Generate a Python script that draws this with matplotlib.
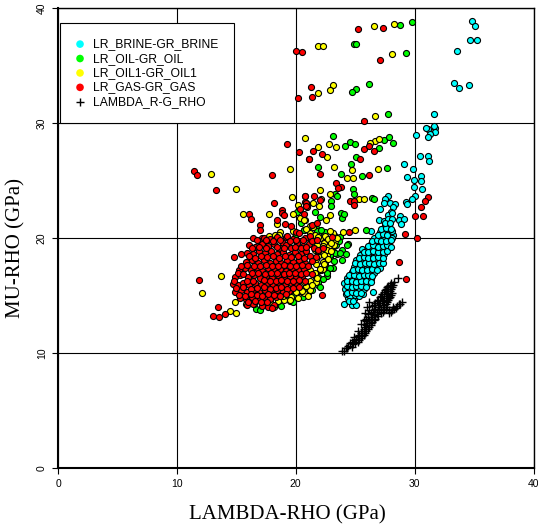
import numpy as np
import matplotlib
matplotlib.use("Agg")
import matplotlib.pyplot as plt

# values (lambda-rho, mu-rho), GPa
brine = [(34.85,38.9),(35.05,38.4),(34.7,37.2),(35.25,37.25),(33.6,36.3),(33.3,33.5),(33.7,33.05),(34.55,33.3),
    (31.6,30.8),(31.1,29.45),(31.75,29.6),(30.96,29.54),(31.66,29.77),(31.75,29.2),(31.33,29.04),(31.1,28.75),
    (30.12,28.93),(30.43,27.16),(31.1,27.16),(31.24,26.72),(29.08,26.43),(29.86,26.03),(29.39,25.27),(29.95,25.04),
    (30.54,25.39),(30.57,24.93),(29.98,24.46),(30.6,24.29),(30.06,23.65),(29.75,23.42),(29.25,23.13),(29.36,22.96),
    (27.76,23.62),(27.53,23.42),(27.45,23.07),(27.9,23.07),(28.38,22.96),(27.11,22.55),(28.18,22.67),(28.01,22.29),
    (27.73,22.0),(28.74,21.94),(27.0,21.56),(27.39,21.5),(27.73,21.62),(28.1,21.62),(28.66,21.56),(29.13,21.62),
    (28.88,21.22),(27.53,21.13),(27.81,20.93),(27.39,20.75),(27.11,20.55),(27.95,20.55),(27.62,20.4),(26.33,20.58),
    (27.22,20.12),(27.73,20.12),(28.18,20.26),(24.05,14.28),(24.36,14.78),(24.72,14.14),(25.09,14.2),(24.89,14.72),
    (25.68,15.13),(26.52,15.33),(24.1,16.05),(24.2,15.1),(24.55,15.0),(24.95,15.05),(25.3,14.95),
    (24.15,15.55),(24.5,15.45),(24.9,15.6),(25.35,15.5),(25.7,15.6),
    (24.5,16.1),(24.85,15.95),(25.3,16.05),(25.75,16.0),(26.1,16.1),
    (24.3,16.5),(24.7,16.45),(25.1,16.6),(25.5,16.4),(25.9,16.55),(26.3,16.45),
    (24.7,17.05),(25.1,16.95),(25.45,17.1),(25.8,17.0),(26.2,17.1),(26.6,16.95),
    (24.9,17.5),(25.3,17.6),(25.65,17.45),(26.0,17.55),(26.4,17.45),(26.8,17.6),(27.05,17.4),
    (25.1,18.05),(25.5,17.95),(25.9,18.1),(26.3,18.0),(26.7,18.1),(27.1,17.95),
    (25.4,18.5),(25.8,18.6),(26.2,18.45),(26.6,18.55),(27.0,18.45),(27.4,18.6),
    (25.6,19.05),(26.0,18.95),(26.4,19.1),(26.8,19.0),(27.2,19.1),(27.6,18.95),
    (26.3,19.5),(26.7,19.6),(27.1,19.45),(27.5,19.55),(27.85,19.5),
    (26.6,20.0),(27.0,19.95),(27.4,20.05),(27.8,19.9),(28.1,20.0),
    (24.5,14.55),(24.85,14.5),(24.35,15.25),(24.7,15.3),(25.1,15.2),(25.45,15.25),
    (24.3,15.8),(24.7,15.75),(25.1,15.85),(25.5,15.8),(25.9,15.75),
    (24.3,16.25),(24.7,16.3),(25.1,16.2),(25.5,16.25),(25.9,16.3),(26.3,16.2),
    (24.5,16.75),(24.9,16.8),(25.3,16.7),(25.7,16.75),(26.1,16.8),(26.45,16.7),
    (24.85,17.25),(25.25,17.3),(25.6,17.2),(26.0,17.25),(26.4,17.3),(26.8,17.2),
    (25.0,17.8),(25.4,17.75),(25.8,17.85),(26.2,17.8),(26.6,17.75),(27.0,17.85),(27.3,17.8),
    (25.3,18.3),(25.7,18.35),(26.1,18.25),(26.5,18.3),(26.9,18.35),(27.3,18.25),
    (25.7,18.8),(26.1,18.75),(26.5,18.85),(26.9,18.8),(27.3,18.75),(27.7,18.85),
    (26.1,19.3),(26.5,19.35),(26.9,19.25),(27.3,19.3),(27.7,19.35),(28.0,19.25),
    (26.4,19.75),(26.8,19.8),(27.2,19.7),(27.6,19.75),(28.0,19.8),
    (26.9,20.3),(27.3,20.35),(27.7,20.25),(28.1,20.6),
    (27.2,20.8),(27.6,20.85),(28.0,20.8),(27.5,21.3),(27.9,21.3),(28.09,22.14)]

oil = [(29.8,38.8),(28.75,38.5),(24.9,36.85),(25.05,36.85),(29.3,36.1),(26.2,33.35),(25.1,33.0),(24.75,32.7),(27.8,30.8),
    (23.15,28.9),(24.16,28.03),(24.58,28.38),(25.0,28.14),(27.0,27.85),(27.45,28.55),(27.87,28.75),(28.15,28.23),
    (25.06,27.07),(24.67,26.43),(21.86,26.17),(23.77,25.56),(25.57,25.36),(27.67,26.11),(24.78,24.23),(24.92,23.83),
    (23.32,23.83),(23.46,23.65),(26.44,23.48),(26.6,23.36),(22.98,23.25),(22.98,22.78),(21.58,22.23),(22.06,21.85),
    (23.8,22.2),(23.88,21.71),(24.1,22.09),(21.77,20.75),(20.71,20.7),(22.28,20.17),(25.93,20.7),(23.74,20.06),
    (21.41,20.03),(20.1,22.26),(20.44,21.33),(20.72,20.7),(19.96,20.06),(16.68,13.79),(16.96,13.73),(19.12,14.84),
    (19.49,14.5),(19.82,14.75),(19.77,14.46),(20.3,15.39),(19.26,15.18),(20.9,15.6),(21.3,16.0),(21.7,16.6),
    (22.1,17.2),(22.5,17.7),(22.9,18.3),(23.1,18.9),(23.4,19.4),(22.6,19.8),(21.9,15.9),(22.6,16.7),(23.1,17.4),
    (20.6,14.9),(18.4,14.3),(18.8,14.1),(22.9,19.9),(23.5,18.6),(23.9,19.0),(24.2,18.6),(24.4,19.5),
    (24.3,19.4),(23.93,18.1),(23.3,18.66),(23.7,18.66),(22.9,18.5),(22.9,17.4),(21.9,16.6),(21.9,16.2),(23.2,18.0),
    (22.6,17.0),(22.3,16.4),(22.0,15.7),(21.4,15.5),(21.0,15.2),(23.6,19.7),(23.0,19.0),(23.3,20.2),(22.5,20.5),
    (21.8,20.6),(22.1,20.7),(19.8,15.0)]

oil1 = [(26.6,38.45),(28.3,38.65),(21.85,36.7),(22.3,36.7),(28.1,36.0),(23.15,33.3),(22.9,32.85),(21.9,32.6),(26.65,30.65),
    (12.86,25.54),(14.99,24.23),(19.54,26.0),(20.81,28.7),(19.68,23.54),(15.55,22.09),(17.74,22.1),(18.42,21.25),
    (20.16,22.9),(19.74,22.09),(20.38,21.71),(20.75,21.59),(18.64,20.52),(17.74,20.2),(18.22,20.26),(21.17,21.04),
    (21.83,27.88),(22.81,28.17),(23.4,27.94),(22.65,27.01),(26.69,28.46),(27.03,28.58),(26.27,28.23),(23.24,26.2),
    (24.75,25.91),(24.33,25.19),(24.81,25.19),(26.89,25.97),(22.03,24.2),(22.84,23.83),(25.29,23.39),(25.71,23.36),
    (21.49,23.07),(22.11,23.42),(21.99,22.78),(22.84,22.0),(22.56,21.56),(23.97,20.55),(25.0,20.67),(20.71,21.56),
    (21.49,20.99),(21.21,20.4),(13.67,16.7),(12.1,15.24),(14.91,14.46),(14.51,13.65),(14.96,13.5),
    (21.6,20.3),(22.0,20.0),(22.4,19.6),(22.8,19.3),(21.8,19.4),(22.2,18.9),(22.6,18.5),(21.9,18.4),(22.3,17.9),
    (21.7,17.7),(22.0,17.2),(21.5,16.9),(21.7,16.2),(21.2,16.3),(21.2,15.5),(20.7,15.2),(20.2,14.8),(19.6,14.9),
    (19.0,14.6),(18.5,14.5),(17.8,14.4),(23.1,20.4),(21.0,17.6),(23.3,19.7),(22.9,20.6),(18.2,14.0),(15.8,14.3),
    (21.3,19.8),(21.9,20.1),(22.5,20.2),(22.7,19.9),(21.6,19.0),(22.6,19.0),(23.0,18.9),(22.35,18.5),(21.7,18.2),
    (22.3,17.3),(22.0,17.3),(21.6,17.0),(21.8,16.5),(21.4,15.9),(20.9,15.8),(20.5,15.4),(20.0,15.3),(19.4,15.4),
    (18.9,15.0),(22.7,18.2),(22.4,17.7),(23.2,19.4),(23.5,20.0),(21.0,15.0),(19.5,14.6),(20.7,16.2),(21.2,17.2),
    (21.9,18.9),(22.3,19.3),(23.0,19.6),(18.6,20.3),(19.8,20.6),(20.9,20.8),(16.5,14.3),(16.0,14.6)]

gas = [(25.25,38.2),(27.3,38.3),(20.0,36.25),(20.55,36.15),(27.1,35.5),(21.25,33.1),(20.15,32.2),(21.35,32.25),(25.75,30.2),
    (11.48,25.8),(11.68,25.48),(13.3,24.2),(17.97,25.48),(19.26,28.2),(20.3,27.48),(21.09,26.84),(18.14,23.07),
    (16.09,22.06),(16.2,21.62),(17.0,21.13),(17.0,20.67),(18.84,22.46),(18.87,22.17),(19.04,22.03),(18.42,21.59),
    (19.12,21.25),(19.6,21.07),(20.78,23.62),(20.78,23.16),(20.92,23.0),(20.92,22.72),(20.36,22.52),(20.67,22.06),
    (20.02,20.49),(17.15,20.03),(19.2,20.08),(31.1,23.59),(30.9,23.22),(30.54,22.67),(30.06,21.91),(30.73,21.91),
    (29.22,20.38),(30.17,19.97),(21.49,27.59),(22.17,27.33),(21.13,26.84),(22.03,25.56),(25.43,26.9),(25.76,27.71),
    (26.13,28.03),(26.55,27.56),(23.38,24.81),(23.82,24.46),(23.52,24.32),(26.16,25.51),(24.56,23.25),(24.86,23.25),
    (24.92,22.87),(21.52,23.65),(20.79,23.65),(20.88,23.07),(20.88,22.78),(22.06,23.3),(21.35,21.13),(21.77,21.27),
    (24.44,20.52),(23.09,20.09),(14.82,18.37),(15.41,18.63),(11.9,16.31),(13.42,13.99),(13.03,13.18),(13.56,13.1),
    (14.01,13.39),(22.2,15.04),(29.3,16.4),(28.7,17.9),
    (16.4,20.0),(16.9,19.7),(17.3,20.0),(17.8,19.9),(18.4,20.1),(18.9,19.6),(19.3,20.2),(19.8,19.9),(20.3,20.4),(20.8,20.0),(21.2,20.2),
    (16.1,19.4),(16.6,19.2),(17.2,19.5),(17.7,19.3),(18.2,19.5),(18.7,19.1),(19.2,19.4),(19.6,19.1),(20.1,19.6),(20.6,19.3),(21.1,19.5),
    (15.9,18.7),(16.4,18.6),(16.9,18.9),(17.4,18.7),(17.9,18.9),(18.4,18.6),(18.9,18.8),(19.4,18.5),(19.9,18.8),(20.4,18.6),(20.9,18.9),
    (15.8,17.9),(16.3,18.1),(16.8,17.8),(17.3,18.1),(17.8,17.8),(18.3,18.0),(18.8,17.8),(19.3,18.1),(19.8,17.9),(20.3,18.1),(20.8,17.8),
    (15.2,17.2),(15.7,17.4),(16.2,17.2),(16.7,17.4),(17.2,17.1),(17.7,17.4),(18.2,17.2),(18.7,17.3),(19.2,17.1),(19.7,17.4),(20.2,17.2),(20.7,17.3),
    (14.9,16.6),(15.3,16.8),(16.0,16.6),(16.5,16.8),(17.0,16.5),(17.5,16.7),(18.0,16.5),(18.5,16.8),(19.0,16.5),(19.5,16.7),(20.0,16.5),(20.5,16.7),
    (14.7,16.0),(15.1,15.9),(15.6,16.1),(16.1,15.9),(16.6,16.1),(17.1,15.9),(17.6,16.1),(18.1,15.9),(18.6,16.1),(19.1,15.9),(19.6,16.1),(20.1,15.9),
    (14.9,15.3),(15.4,15.5),(15.9,15.3),(16.4,15.5),(16.9,15.3),(17.4,15.5),(17.9,15.3),(18.4,15.5),(18.9,15.3),(19.4,15.4),
    (15.3,14.8),(15.8,14.7),(16.3,14.9),(16.8,14.7),(17.3,14.9),(17.8,14.7),(18.3,14.9),
    (15.9,14.2),(16.4,14.3),(17.2,14.1),(17.7,14.0),(18.2,14.2),(18.0,13.9),
    (16.7,19.8),(17.5,19.85),(18.1,19.75),(18.7,19.8),(19.5,19.75),(20.0,19.85),(20.6,19.8),(21.4,19.75),(21.8,19.85),
    (16.3,19.1),(16.9,19.2),(17.5,19.1),(18.4,19.2),(19.0,19.1),(19.9,19.2),(20.4,19.1),(20.9,19.2),(21.5,19.1),(21.83,19.0),(22.3,19.15),
    (16.1,18.4),(16.6,18.3),(17.1,18.45),(17.6,18.35),(18.1,18.4),(18.6,18.3),(19.1,18.45),(19.6,18.35),(20.2,18.4),(20.7,18.3),(21.2,18.45),(21.7,18.35),
    (15.4,17.6),(15.9,17.65),(16.5,17.55),(17.0,17.6),(17.5,17.65),(18.0,17.55),(18.5,17.6),(19.0,17.65),(19.5,17.55),(20.0,17.6),(20.5,17.65),(21.0,17.55),(21.35,18.0),
    (15.1,16.95),(15.6,16.9),(16.3,17.0),(16.8,16.95),(17.4,16.9),(17.9,17.0),(18.4,16.95),(19.0,16.9),(19.4,17.0),(19.9,16.95),(20.4,16.9),(20.9,17.0),(21.35,16.9),
    (14.8,16.3),(15.9,16.3),(16.4,16.25),(17.3,16.35),(17.8,16.3),(18.3,16.25),(18.8,16.35),(19.3,16.3),(19.8,16.25),(20.3,16.35),(20.8,16.3),
    (15.0,15.65),(15.6,15.7),(16.2,15.6),(16.7,15.65),(17.3,15.7),(17.8,15.6),(18.3,15.65),(18.8,15.7),(19.3,15.6),(19.8,15.65),(20.3,15.7),
    (15.2,15.05),(15.7,15.0),(16.2,15.1),(16.7,15.05),(17.2,15.0),(17.7,15.1),(18.2,15.05),(18.7,15.0),(19.2,15.1),
    (16.0,14.45),(16.6,14.5),(17.1,14.4),(17.6,14.45)]

lam_rho = [(23.93,10.14),(24.2,10.4),(24.4,10.65),(24.7,10.55),(24.75,10.95),(25.0,10.85),(25.1,11.25),(25.35,11.1),
    (25.3,11.6),(25.6,11.45),(25.55,11.9),(25.85,11.75),(25.8,12.25),(26.1,12.05),(26.0,12.6),(26.3,12.4),
    (25.9,13.0),(26.2,12.85),(26.45,12.7),(26.1,13.35),(26.4,13.15),(26.7,13.0),(26.2,13.75),(26.5,13.55),
    (26.8,13.4),(26.4,14.05),(26.7,13.85),(27.0,13.7),(27.3,13.55),(26.7,14.35),(27.0,14.2),(27.3,14.0),
    (27.6,13.85),(26.95,14.65),(27.25,14.5),(27.55,14.3),(27.15,15.0),(27.45,14.8),(27.75,14.6),(27.4,15.3),
    (27.7,15.1),(27.95,14.9),(27.6,15.6),(27.9,15.4),(28.1,15.2),(27.8,15.85),(28.1,15.7),(28.0,16.05),
    (28.23,16.2),(28.6,16.49),(27.81,13.73),(28.0,13.55),(28.3,13.85),(28.55,14.1),(28.75,14.25),(28.93,14.46),
    (25.2,11.9),(25.5,12.5),(25.7,12.9),(24.9,11.4),
    (24.1,10.2),(24.35,10.45),(24.55,10.85),(24.85,10.75),(24.9,11.1),(25.2,11.0),(25.2,11.5),(25.45,11.3),
    (25.45,11.75),(25.7,11.6),(25.7,12.1),(25.95,11.95),(25.9,12.45),(26.2,12.25),(25.95,12.8),(26.3,12.6),
    (25.85,13.45),(26.05,13.1),(26.35,13.0),(26.6,12.9),(26.0,14.0),(26.13,14.46),(26.3,13.5),(26.6,13.3),
    (26.9,13.2),(26.55,13.73),(26.85,13.6),(27.15,13.45),(26.6,14.2),(26.9,14.0),(27.2,13.85),(27.45,13.7),
    (26.85,14.5),(27.1,14.35),(27.4,14.2),(27.7,14.0),(27.05,14.85),(27.35,14.65),(27.65,14.45),(27.25,15.15),
    (27.55,14.95),(27.85,14.75),(27.5,15.45),(27.75,15.25),(28.05,15.05),(27.7,15.7),(28.0,15.55),(27.9,15.95),
    (28.2,15.9),(28.15,14.0),(28.45,13.95),(28.65,14.3),(27.81,13.44),(28.1,13.7)]

legend_names = ["LR_BRINE-GR_BRINE", "LR_OIL-GR_OIL", "LR_OIL1-GR_OIL1", "LR_GAS-GR_GAS", "LAMBDA_R-G_RHO"]
ticks = [0, 10, 20, 30, 40]

plt.rcParams['font.family'] = 'Liberation Sans'

fig = plt.figure(figsize=(5.38, 5.29), dpi=100)
ax = fig.add_axes([58/538, 1 - 468/529, (533.5 - 58)/538, (468 - 8)/529])

sets = [(brine, 'cyan'), (oil, 'lime'), (oil1, 'yellow'), (gas, 'red')]
for (pts, col), name in zip(sets, legend_names):
    pts = np.array(pts)
    ax.scatter(pts[:, 0], pts[:, 1], s=19, c=col, edgecolors='black', linewidths=0.8, zorder=3, label=name)
pts = np.array(lam_rho)
ax.scatter(pts[:, 0], pts[:, 1], s=34, c='black', marker='+', linewidths=1.0, zorder=4, label=legend_names[4])

ax.set_xlim(0, 40)
ax.set_ylim(0, 40)
ax.set_xticks(ticks)
ax.set_yticks(ticks)
ax.grid(True, color='black', linewidth=0.8)
ax.set_axisbelow(True)
ax.tick_params(labelsize=7.5, length=4, width=0.8, pad=4)
plt.setp(ax.get_yticklabels(), rotation=90, va='center')
ax.spines['left'].set_linewidth(1.5)
ax.spines['bottom'].set_linewidth(1.5)
ax.spines['top'].set_linewidth(1.0)
ax.spines['right'].set_linewidth(1.0)

ax.set_xlabel('LAMBDA-RHO (GPa)', family='Liberation Serif', fontsize=15)
ax.set_ylabel('MU-RHO (GPa)', family='Liberation Serif', fontsize=15)
ax.xaxis.set_label_coords(0.4816, -0.08)
ax.yaxis.set_label_coords(-0.069, 0.478)

leg = ax.legend(loc='upper left', bbox_to_anchor=(0.004, 0.967), fontsize=8.7, frameon=True, fancybox=False,
                framealpha=1, edgecolor='black', borderaxespad=0, borderpad=1.25, labelspacing=0.2,
                handletextpad=0.67, handlelength=0.83, scatterpoints=1)
leg.get_frame().set_linewidth(0.8)
for h in leg.legend_handles[:4]:
    h.set_edgecolor('none')
    h.set_sizes([30])
leg.set_zorder(5)

fig.savefig('out.png', dpi=100)
